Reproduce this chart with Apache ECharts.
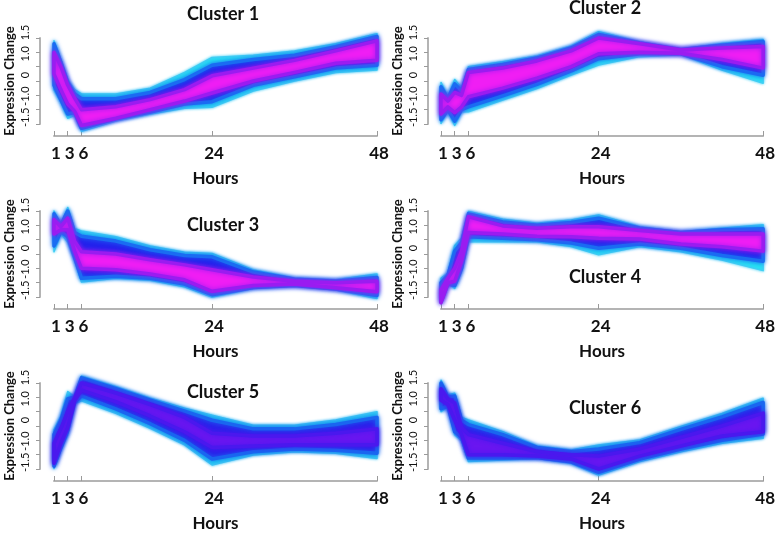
<!DOCTYPE html>
<html><head><meta charset="utf-8">
<script src="https://cdn.jsdelivr.net/npm/echarts@6/dist/echarts.min.js"></script>
<style>html,body{margin:0;padding:0;background:#fff}#c{width:778px;height:533px}</style>
</head><body><div id="c"></div>
<script>
// x positions of the samples (axis position units; tick "6" sits at position 5)
const hours = [1, 2, 3, 4, 5, 10, 15, 20, 24, 30, 36, 42, 48];
const xTickPos = [1, 3, 5, 24, 48];
const xTickLabels = ['1', '3', '6', '24', '48'];
const yTickLabels = ['-1.5', '-1.0', '0', '1.0', '1.5'];
const clusterNames = ['Cluster 1', 'Cluster 2', 'Cluster 3', 'Cluster 4', 'Cluster 5', 'Cluster 6'];

// Cluster 1 envelopes (outer = cyan fringe, blue, core)
const c1OuterHi = [1.40, 0.75, 0.05, -0.30, -0.45, -0.45, -0.25, 0.30, 0.82, 0.90, 1.05, 1.30, 1.65];
const c1OuterLo = [-0.30, -0.75, -1.30, -1.20, -1.75, -1.40, -1.15, -0.95, -0.92, -0.35, 0.00, 0.30, 0.38];
const c1BlueHi  = [1.30, 0.65, -0.05, -0.45, -0.62, -0.62, -0.40, 0.05, 0.55, 0.75, 0.90, 1.20, 1.55];
const c1BlueLo  = [-0.15, -0.65, -1.15, -1.10, -1.65, -1.32, -1.08, -0.80, -0.72, -0.15, 0.15, 0.45, 0.55];
const c1CoreHi  = [1.00, 0.50, -0.15, -0.60, -1.00, -0.90, -0.65, -0.30, 0.18, 0.45, 0.72, 1.05, 1.40];
const c1CoreLo  = [0.25, -0.30, -0.80, -1.05, -1.55, -1.30, -1.00, -0.70, -0.42, 0.00, 0.30, 0.62, 0.72];

// Cluster 2
const c2OuterHi = [-0.05, -0.55, 0.05, -0.25, 0.50, 0.67, 0.87, 1.22, 1.72, 1.37, 1.12, 1.31, 1.45];
const c2OuterLo = [-1.48, -1.05, -1.55, -1.07, -1.07, -0.66, -0.26, 0.21, 0.56, 0.85, 0.92, 0.38, -0.08];
const c2BlueHi  = [-0.20, -0.62, -0.10, -0.35, 0.40, 0.58, 0.80, 1.15, 1.62, 1.33, 1.10, 1.25, 1.38];
const c2BlueLo  = [-1.35, -1.00, -1.40, -1.00, -0.90, -0.52, -0.12, 0.35, 0.78, 0.95, 0.95, 0.50, 0.20];
const c2CoreHi  = [-0.45, -0.70, -0.40, -0.50, 0.30, 0.45, 0.70, 1.05, 1.50, 1.30, 1.08, 1.15, 1.20];
const c2CoreLo  = [-1.15, -0.90, -1.10, -0.90, -0.55, -0.25, 0.10, 0.50, 0.95, 1.00, 0.97, 0.75, 0.45];

// Cluster 3
const c3OuterHi = [1.50, 1.04, 1.62, 0.88, 0.80, 0.60, 0.28, 0.06, 0.02, -0.56, -0.84, -0.90, -0.70];
const c3OuterLo = [0.08, 0.72, 0.42, -0.25, -0.98, -0.85, -0.92, -1.14, -1.50, -1.20, -1.12, -1.26, -1.55];
const c3BlueHi  = [1.40, 1.00, 1.50, 0.75, 0.62, 0.45, 0.15, -0.05, -0.10, -0.63, -0.88, -0.95, -0.82];
const c3BlueLo  = [0.28, 0.78, 0.60, -0.10, -0.85, -0.78, -0.85, -1.05, -1.42, -1.17, -1.10, -1.22, -1.45];
const c3CoreHi  = [1.20, 0.95, 1.25, 0.45, 0.08, 0.00, -0.20, -0.38, -0.55, -0.80, -0.95, -1.00, -0.95];
const c3CoreLo  = [0.70, 0.85, 0.85, 0.10, -0.50, -0.55, -0.70, -0.90, -1.30, -1.10, -1.05, -1.18, -1.32];

// Cluster 4
const c4OuterHi = [-0.85, -0.67, 0.30, 0.55, 1.48, 1.21, 1.07, 1.19, 1.36, 0.95, 0.78, 0.90, 1.02];
const c4OuterLo = [-1.72, -1.02, -1.20, -0.62, 0.43, 0.43, 0.43, 0.26, -0.03, 0.26, 0.08, -0.21, -0.58];
const c4BlueHi  = [-1.00, -0.75, 0.10, 0.40, 1.40, 1.12, 1.00, 1.10, 1.25, 0.90, 0.75, 0.85, 0.88];
const c4BlueLo  = [-1.68, -1.05, -1.10, -0.50, 0.60, 0.55, 0.50, 0.38, 0.20, 0.35, 0.20, -0.05, -0.25];
const c4CoreHi  = [-1.25, -0.85, -0.50, 0.10, 1.30, 0.98, 0.90, 0.95, 0.95, 0.82, 0.70, 0.70, 0.70];
const c4CoreLo  = [-1.70, -1.00, -0.95, -0.25, 0.75, 0.70, 0.62, 0.60, 0.55, 0.52, 0.35, 0.25, 0.10];

// Cluster 5
const c5OuterHi = [-0.14, 0.35, 1.20, 1.02, 1.74, 1.37, 0.97, 0.62, 0.38, 0.03, 0.03, 0.21, 0.50];
const c5OuterLo = [-1.48, -0.85, -0.30, 0.78, 0.88, 0.44, -0.08, -0.66, -1.36, -1.01, -0.90, -0.95, -1.13];
const c5BlueHi  = [-0.30, 0.20, 0.95, 1.00, 1.68, 1.30, 0.90, 0.52, 0.20, -0.10, -0.10, 0.05, 0.30];
const c5BlueLo  = [-1.40, -0.75, -0.15, 0.82, 1.05, 0.60, 0.08, -0.50, -1.15, -0.90, -0.80, -0.85, -0.95];
const c5CoreHi  = [-0.60, -0.10, 0.50, 0.98, 1.50, 1.15, 0.75, 0.30, -0.25, -0.35, -0.35, -0.25, -0.10];
const c5CoreLo  = [-1.30, -0.60, -0.05, 0.88, 1.25, 0.85, 0.35, -0.20, -0.75, -0.70, -0.65, -0.65, -0.65];

// Cluster 6
const c6OuterHi = [1.60, 1.08, 1.14, 0.30, 0.21, -0.20, -0.70, -0.84, -0.66, -0.49, -0.02, 0.44, 0.97];
const c6OuterLo = [0.50, 0.67, -0.30, -0.50, -1.24, -1.19, -1.13, -1.30, -1.71, -1.24, -0.90, -0.60, -0.43];
const c6BlueHi  = [1.50, 1.00, 1.05, 0.20, 0.05, -0.30, -0.75, -0.90, -0.80, -0.58, -0.12, 0.32, 0.82];
const c6BlueLo  = [0.60, 0.70, -0.20, -0.40, -1.12, -1.12, -1.10, -1.25, -1.62, -1.15, -0.80, -0.50, -0.28];
const c6CoreHi  = [1.30, 0.95, 0.80, -0.05, -0.30, -0.60, -0.90, -1.00, -1.05, -0.80, -0.40, 0.00, 0.45];
const c6CoreLo  = [0.90, 0.75, 0.20, -0.30, -1.00, -1.00, -1.05, -1.15, -1.50, -1.05, -0.70, -0.35, -0.20];

const clusterBands = [
  [[c1OuterLo, c1OuterHi], [c1BlueLo, c1BlueHi], [c1CoreLo, c1CoreHi]],
  [[c2OuterLo, c2OuterHi], [c2BlueLo, c2BlueHi], [c2CoreLo, c2CoreHi]],
  [[c3OuterLo, c3OuterHi], [c3BlueLo, c3BlueHi], [c3CoreLo, c3CoreHi]],
  [[c4OuterLo, c4OuterHi], [c4BlueLo, c4BlueHi], [c4CoreLo, c4CoreHi]],
  [[c5OuterLo, c5OuterHi], [c5BlueLo, c5BlueHi], [c5CoreLo, c5CoreHi]],
  [[c6OuterLo, c6OuterHi], [c6BlueLo, c6BlueHi], [c6CoreLo, c6CoreHi]]
];

// ---- layout / style ----
const FONT = 'Lato';
const panels = [
  { left: 54, width: 323, top: 38, yOff: 14, tx: 223, ty: 5 },
  { left: 441, width: 329, top: 38, yOff: 13, tx: 605, ty: -1 },
  { left: 54, width: 323, top: 211, yOff: 14, tx: 223, ty: 216 },
  { left: 441, width: 329, top: 211, yOff: 13, tx: 605, ty: 268 },
  { left: 54, width: 323, top: 383, yOff: 14, tx: 223, ty: 383 },
  { left: 441, width: 329, top: 383, yOff: 13, tx: 605, ty: 399 }
];
const PH = 86;
// fill, edge (transition) colour for each band
const magentaSet = [['#26e4f2', '#3fd0f4'], ['#2322ec', '#1a6cf2'], ['#f01ef4', '#9a1cf0']];
const purpleSet  = [['#22d8f2', '#3cc8f4'], ['#2a22ea', '#1a66f0'], ['#6a16f0', '#4a18ee']];
const bandStyles = [magentaSet, magentaSet, magentaSet, magentaSet, purpleSet, purpleSet];

const grids = [], xAxes = [], yAxes = [], series = [], titles = [];
panels.forEach((p, i) => {
  grids.push({ left: p.left, top: p.top, width: p.width, height: PH, containLabel: false });
  xAxes.push({
    gridIndex: i, type: 'value', min: 1, max: 48, offset: 12,
    splitLine: { show: false },
    axisLine: { show: true, onZero: false, lineStyle: { color: '#b4b4b4', width: 2 } },
    axisTick: { show: true, inside: true, length: 5, customValues: xTickPos, lineStyle: { color: '#9a9a9a', width: 1 } },
    axisLabel: {
      customValues: xTickPos, margin: 9, padding: [0, 0, 0, 4],
      formatter: v => xTickLabels[xTickPos.indexOf(v)],
      fontFamily: FONT, fontSize: 17, fontWeight: 'bold', color: '#111'
    },
    name: 'Hours', nameLocation: 'middle', nameGap: 34,
    nameTextStyle: { fontFamily: FONT, fontSize: 17, fontWeight: 'bold', color: '#111' }
  });
  yAxes.push({
    gridIndex: i, type: 'value', min: -1.5, max: 1.5, interval: 0.5, offset: p.yOff,
    splitLine: { show: false },
    axisLine: { show: true, onZero: false, lineStyle: { color: '#b4b4b4', width: 2 } },
    axisTick: { show: true, length: 4, lineStyle: { color: '#9a9a9a' } },
    axisLabel: { show: false },
    name: 'Expression Change', nameLocation: 'middle', nameGap: 24,
    nameTextStyle: { fontFamily: FONT, fontSize: 13, fontWeight: 'bold', color: '#111' }
  });
  titles.push({
    text: clusterNames[i], left: p.tx, top: p.ty, textAlign: 'center', padding: 0,
    textStyle: { fontFamily: FONT, fontSize: 18, fontWeight: 'bold', color: '#111' }
  });
  clusterBands[i].forEach((b, k) => {
    const lo = b[0], hi = b[1];
    const st = bandStyles[i][k];
    series.push({
      type: 'custom', xAxisIndex: i, yAxisIndex: i, silent: true, clip: false,
      data: hours.map((h, j) => [h, lo[j], hi[j]]),
      encode: { x: 0, y: [1, 2] },
      renderItem: function (params, api) {
        if (params.dataIndex !== 0) return null;
        const top = [], bot = [];
        for (let j = 0; j < hours.length; j++) {
          top.push(api.coord([hours[j], hi[j]]));
          bot.push(api.coord([hours[j], lo[j]]));
        }
        return {
          type: 'polygon',
          shape: { points: top.concat(bot.reverse()) },
          style: {
            fill: st[0], stroke: st[1], lineWidth: k === 0 ? 1.5 : 3.5, lineJoin: 'round',
            shadowBlur: k === 0 ? 3 : 5, shadowColor: st[1]
          }
        };
      }
    });
  });
});
// separate grids carrying the y tick labels
panels.forEach((p, i) => {
  const gi = panels.length + i;
  grids.push({ left: p.left - p.yOff, top: p.top - 16, width: 1, height: PH + 20 });
  xAxes.push({ gridIndex: gi, type: 'value', show: false });
  yAxes.push({
    gridIndex: gi, type: 'category', data: yTickLabels, boundaryGap: true,
    axisLine: { show: false }, axisTick: { show: false }, splitLine: { show: false },
    axisLabel: { rotate: 90, margin: 9, interval: 0, fontFamily: FONT, fontSize: 11, fontWeight: 'normal', color: '#111' }
  });
});

const chart = echarts.init(document.getElementById('c'), null, { renderer: 'canvas' });
chart.setOption({
  animation: false,
  backgroundColor: '#ffffff',
  title: titles,
  grid: grids,
  xAxis: xAxes,
  yAxis: yAxes,
  series: series
});
</script></body></html>
